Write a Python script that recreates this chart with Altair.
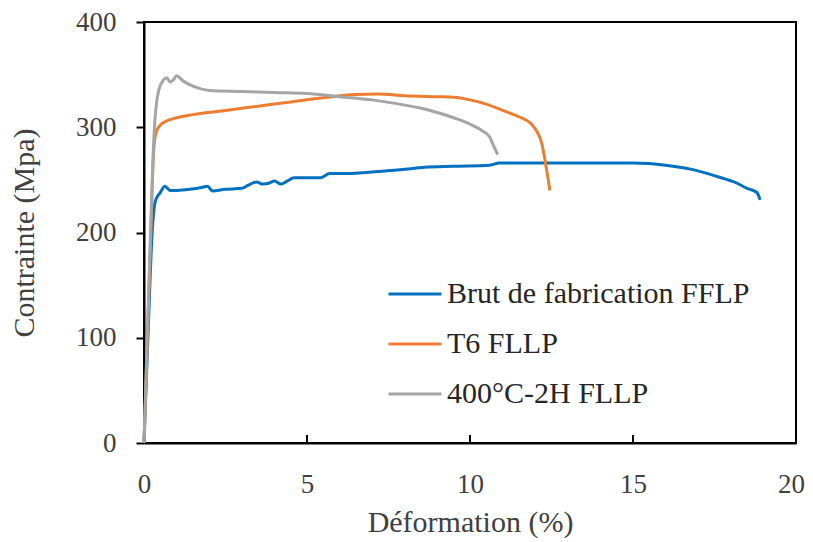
import altair as alt
import pandas as pd

# Brut de fabrication FFLP
brut_x = [0, 0.12, 0.25, 0.35, 0.5, 0.64, 0.8, 1.0, 1.4, 1.8, 1.95, 2.1, 2.5, 3.0, 3.2, 3.45, 3.65,
          3.85, 4.0, 4.2, 4.4, 4.6, 5.0, 5.4, 5.7, 6.2, 7.2, 8.0, 8.6, 9.5, 10.6, 10.9, 12, 13, 14,
          15, 16.0, 16.8, 17.6, 18.1, 18.5, 18.8, 18.9]
brut_y = [0, 100, 200, 230, 238, 244, 240, 240, 241, 243, 244, 239.5, 241, 242, 245, 248, 246,
          247, 249, 246, 249, 252, 252, 252, 256, 256, 258, 260, 262, 263, 264, 266, 266, 266, 266,
          266, 264, 260, 253, 248, 242, 238, 231]

# T6 FLLP
t6_x = [0, 0.1, 0.2, 0.3, 0.38, 0.5, 0.7, 1.0, 1.5, 2.5, 3.5, 4.5, 5.5, 6.5, 7.2, 8.0, 9.0, 9.5,
        10.0, 10.5, 11.0, 11.5, 11.85, 12.05, 12.2, 12.3, 12.4, 12.45]
t6_y = [0, 95, 190, 280, 296, 302, 306, 309, 312, 316, 320, 324, 328, 331, 331.5, 330, 329, 328.5,
        326, 322, 316, 310, 304, 296, 285, 269, 250, 240]

# 400°C-2H FLLP
h400_x = [0, 0.1, 0.2, 0.32, 0.45, 0.6, 0.7, 0.8, 0.9, 1.0, 1.2, 1.5, 2.0, 3.0, 4.0, 5.0, 6.0, 7.0,
          8.0, 8.5, 9.0, 9.5, 10.0, 10.3, 10.6, 10.7, 10.85]
h400_y = [0, 100, 200, 300, 335, 345, 347, 343, 345, 349, 344, 339, 335, 334, 333, 332, 329, 326,
          321, 318, 314, 309, 303, 298, 291, 284, 274]

series = ["Brut de fabrication FFLP", "T6 FLLP", "400°C-2H FLLP"]
colors = ["#0070C0", "#ED7D31", "#A5A5A5"]
x_ticks = [0, 5, 10, 15, 20]
y_ticks = [0, 100, 200, 300, 400]
inner_x_ticks = [5, 10, 15]

frames = []
for name, xs, ys in zip(series, [brut_x, t6_x, h400_x], [brut_y, t6_y, h400_y]):
    frames.append(pd.DataFrame({"x": xs, "y": ys, "s": name, "o": range(len(xs))}))
df = pd.concat(frames, ignore_index=True)

FONT = "Liberation Serif"
W, H = 652, 421

lines = alt.Chart(df).mark_line(strokeWidth=3, interpolate="monotone").encode(
    x=alt.X("x:Q", scale=alt.Scale(domain=[0, 20], nice=False),
            axis=alt.Axis(values=x_ticks, title="Déformation (%)", ticks=False, labelFlush=False,
                          labelOffset={"expr": "datum.value == 20 ? -5 : 0"},
                          labelPadding=28, titlePadding=10, titleFontSize=30)),
    y=alt.Y("y:Q", scale=alt.Scale(domain=[0, 400], nice=False),
            axis=alt.Axis(values=y_ticks, title="Contrainte (Mpa)", tickSize=8, labelFlush=False,
                          labelPadding=20, titlePadding=36, titleFontSize=30)),
    color=alt.Color("s:N", scale=alt.Scale(domain=series, range=colors),
                    legend=alt.Legend(title=None, orient="none", legendX=243, legendY=244,
                                      symbolType="stroke", symbolSize=2809, symbolStrokeWidth=3,
                                      labelFontSize=30, labelFont=FONT, labelColor="#262626",
                                      labelLimit=0, rowPadding=7, labelOffset=4)),
    order="o:Q",
)

ticks = alt.Chart(pd.DataFrame({"v": inner_x_ticks})).mark_rule(color="black", strokeWidth=2).encode(
    x="v:Q", y=alt.value(H), y2=alt.value(H - 8)
)

chart = alt.layer(lines, ticks).properties(
    width=W, height=H,
    autosize=alt.AutoSizeParams(type="none"),
    padding={"left": 136, "top": 14, "right": 9, "bottom": 97},
).configure_view(stroke="black", strokeWidth=2).configure_axis(
    domainColor="black", domainWidth=2, tickColor="black", tickWidth=2, grid=False,
    labelFont=FONT, labelFontSize=27, labelColor="#404040",
    titleFont=FONT, titleColor="#404040", titleFontWeight="normal",
)

chart.save("out.html", embed_options={"renderer": "svg", "actions": False})
